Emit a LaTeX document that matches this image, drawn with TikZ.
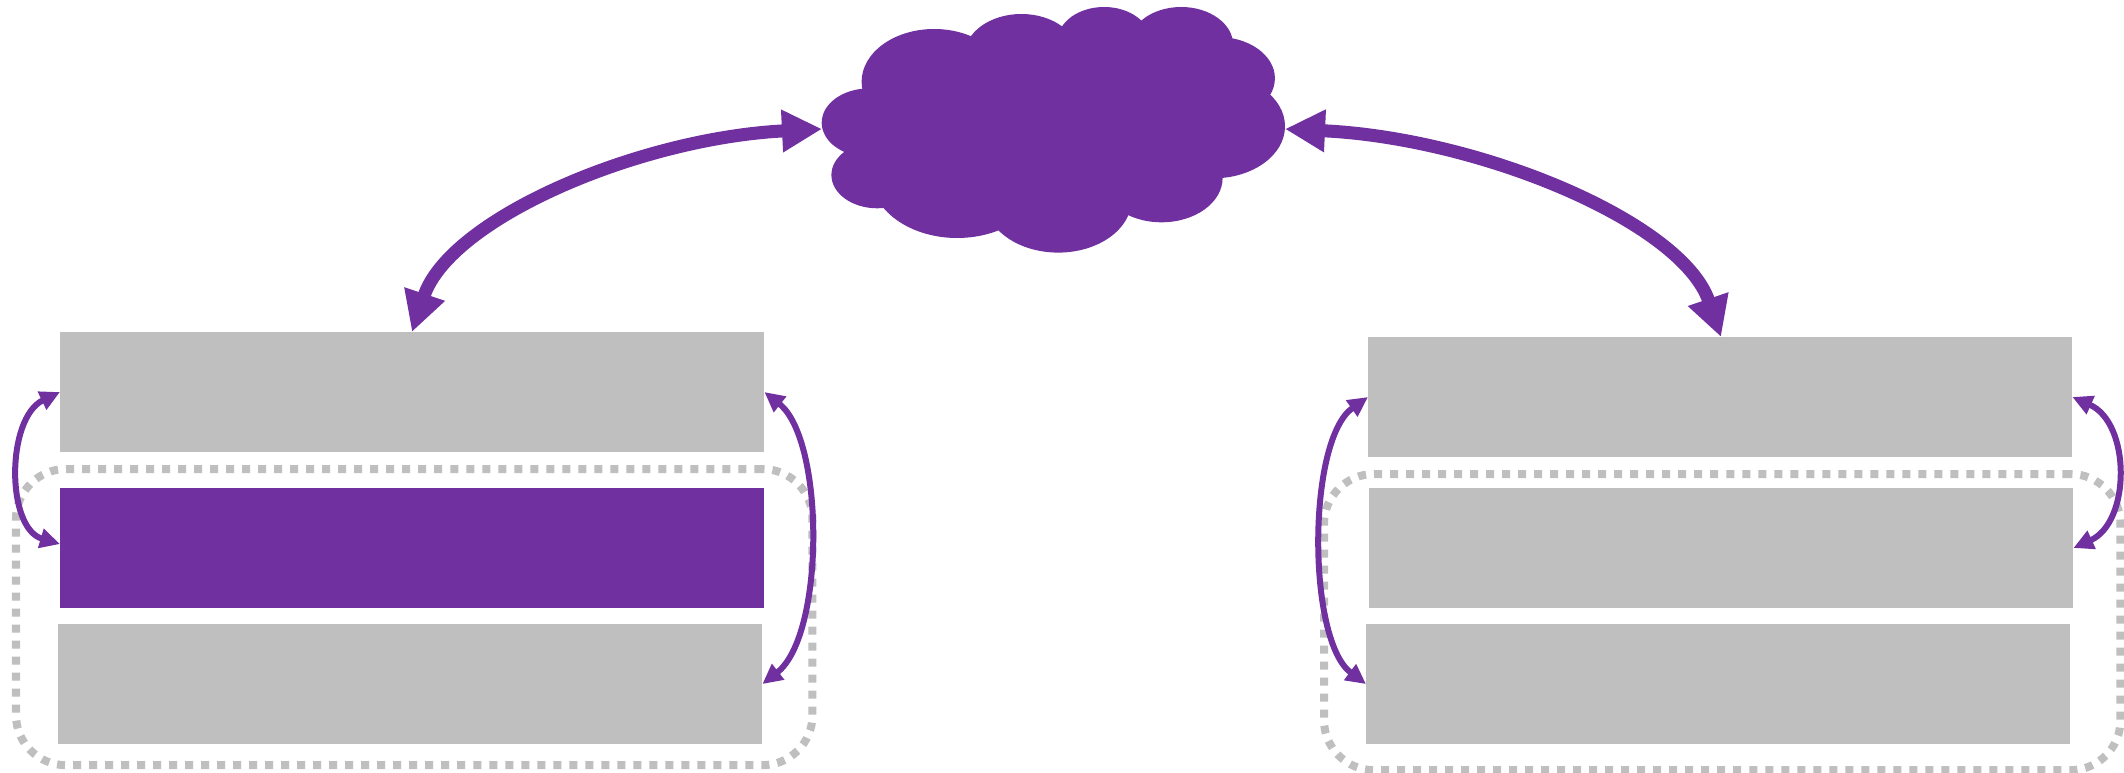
\documentclass[tikz,border=0pt]{standalone}
\usetikzlibrary{arrows.meta}
\definecolor{linkpurple}{HTML}{7030A0}
\definecolor{boxgray}{HTML}{BFBFBF}

\begin{document}
\begin{tikzpicture}[x=0.01cm, y=-0.01cm,
    boxnode/.style={fill=#1, inner sep=0pt, outer sep=0pt, anchor=north west,
      minimum width=7.04cm, minimum height=1.2cm},
    boxnode/.default=boxgray,
    groupnode/.style={draw=boxgray, line width=0.08cm, dash pattern=on 0.08cm off 0.08cm,
      rounded corners=0.5cm, inner sep=0pt, outer sep=0pt, anchor=north west},
    biglink/.style={draw=linkpurple, line width=0.13cm,
      {Triangle[length=0.4cm, width=0.4cm]}-{Triangle[length=0.4cm, width=0.4cm]}},
    smalllink/.style={draw=linkpurple, line width=0.06cm,
      {Triangle[length=0.2cm, width=0.19cm]}-{Triangle[length=0.2cm, width=0.19cm]}}]
  \useasboundingbox (0,0) rectangle (2124,773);
  % dotted groups
  \node[groupnode, minimum width=7.96cm, minimum height=2.96cm] (groupL) at (16,469) {};
  \node[groupnode, minimum width=7.96cm, minimum height=2.96cm] (groupR) at (1324,474) {};
  % left stack
  \node[boxnode] (boxLa) at (60,332) {};
  \node[boxnode=linkpurple] (boxLb) at (60,488) {};
  \node[boxnode] (boxLc) at (58,624) {};
  % right stack
  \node[boxnode] (boxRa) at (1368,337) {};
  \node[boxnode] (boxRb) at (1369,488) {};
  \node[boxnode] (boxRc) at (1366,624) {};
  % cloud
  \foreach \cx/\cy/\rx/\ry in {869/122.7/47.3/34.3, 934.2/81.7/72.6/52.7, 1021.4/55.3/56.9/41.3,
      1104.1/40.7/46.4/33.7, 1181.2/44.7/51.9/37.7, 1218/78.3/56.9/41.3, 1213.4/126.3/71.6/52,
      1161.5/178/61.1/44.3, 1058.2/199.3/73.5/53.3, 957.2/175.3/86.3/62.7, 877.3/175/45.9/33.3}
    \fill[linkpurple] (\cx,\cy) ellipse [x radius=\rx, y radius=\ry];
  \fill[linkpurple] (869,122) -- (934,82) -- (1021,55) -- (1104,41) -- (1181,45) -- (1218,78)
    -- (1213,126) -- (1161,178) -- (1058,199) -- (957,175) -- (877,175) -- cycle;
  \coordinate (cloudW) at (822,129);
  \coordinate (cloudE) at (1285,129);
  \coordinate (boxLaN) at (412,332);
  \coordinate (boxRaN) at (1721,337);
  % links to the cloud
  \draw[biglink] (boxLaN) .. controls (450,218) and (640,138) .. (cloudW);
  \draw[biglink] (cloudE) .. controls (1480,138) and (1682,222) .. (boxRaN);
  % links inside the stacks
  \draw[smalllink] (boxLa.west) .. controls (6,418) and (6,528) .. ([yshift=0.04cm]boxLb.west);
  \draw[smalllink] (boxLa.east) .. controls (825,440) and (825,635) .. (boxLc.east);
  \draw[smalllink] (boxRa.west) .. controls (1307,440) and (1307,640) .. (boxRc.west);
  \draw[smalllink] (boxRa.east) .. controls (2131,423) and (2131,522) .. (boxRb.east);
\end{tikzpicture}
\end{document}
